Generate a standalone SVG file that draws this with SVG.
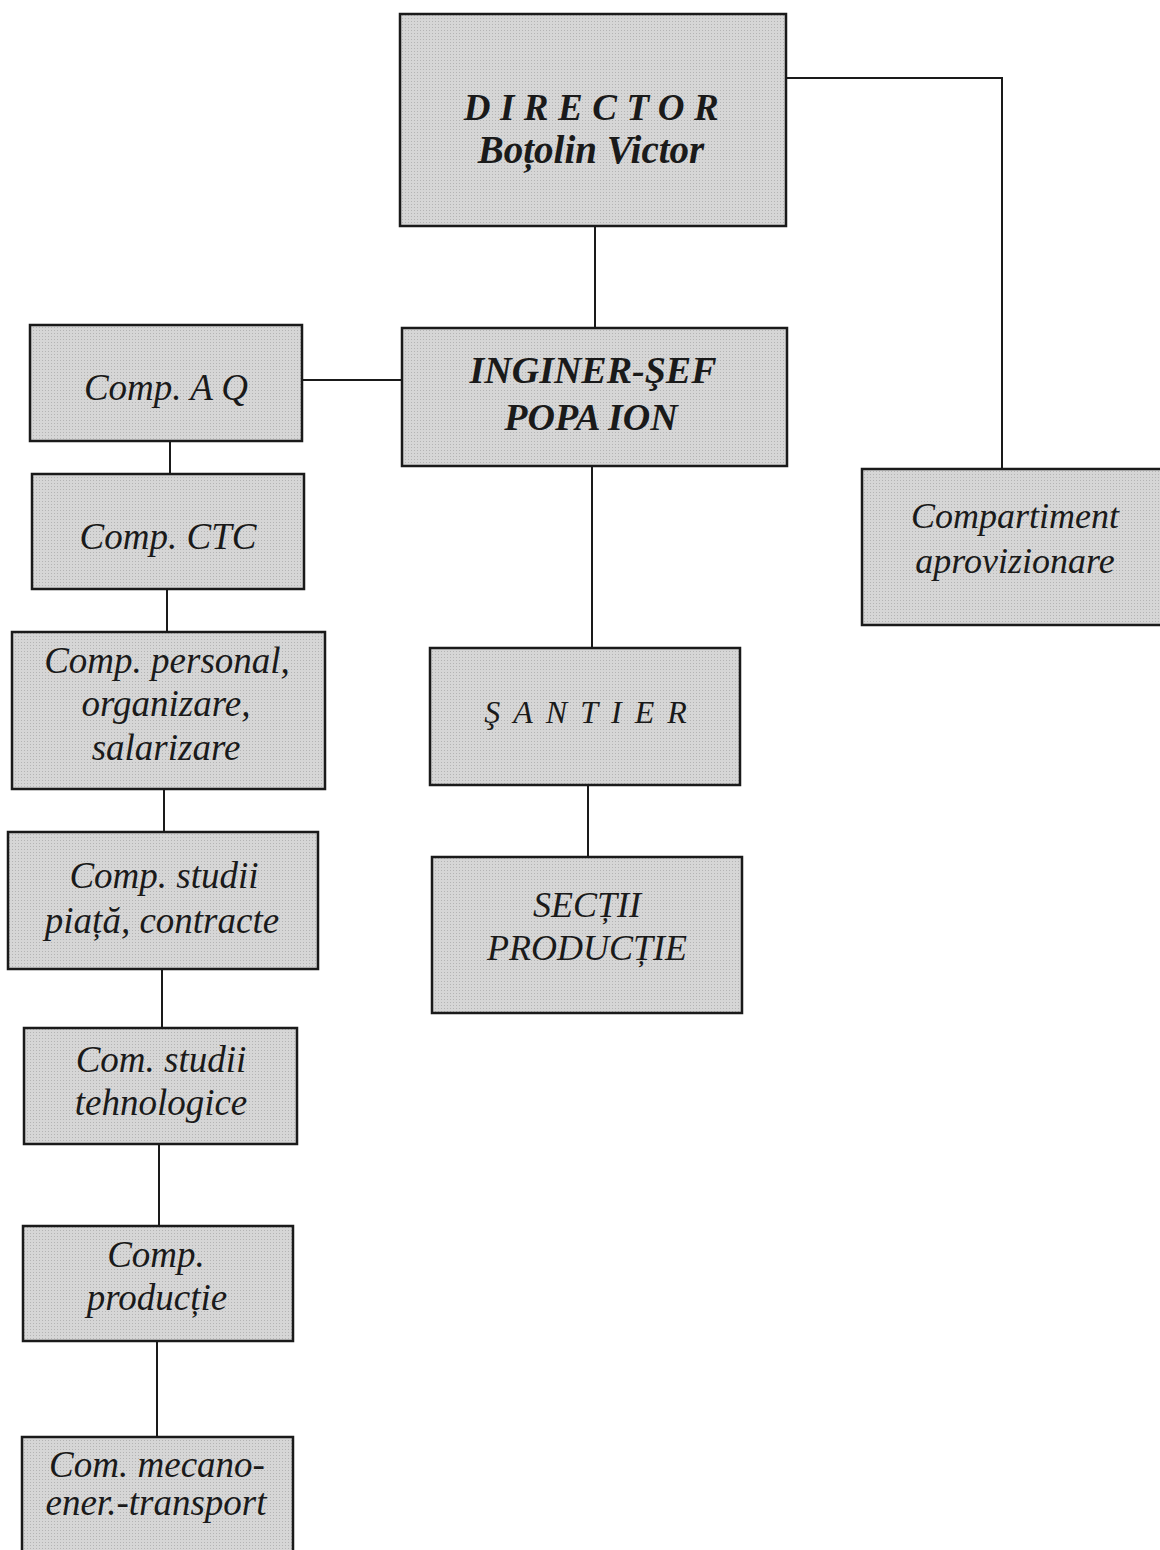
<svg xmlns="http://www.w3.org/2000/svg" width="1160" height="1550" viewBox="0 0 1160 1550">
<defs>
<pattern id="dots" width="3" height="3" patternUnits="userSpaceOnUse">
<rect width="3" height="3" fill="#d6d6d6"/>
<rect width="1" height="1" fill="#b4b4b4"/>
</pattern>
</defs>
<style>
.box{fill:url(#dots);stroke:#1a1a1a;stroke-width:2.5}
.t{font-family:"Liberation Serif","Times New Roman",serif;font-style:italic;fill:#1a1a1a;text-anchor:middle}
.b{font-weight:bold}
.conn{stroke:#1a1a1a;stroke-width:2;fill:none}
</style>
<rect width="1160" height="1550" fill="#ffffff"/>
<g id="connectors">
<line class="conn" x1="595" y1="226" x2="595" y2="328"/>
<polyline class="conn" points="787,78 1002,78 1002,469"/>
<line class="conn" x1="302" y1="380" x2="402" y2="380"/>
<line class="conn" x1="592" y1="466" x2="592" y2="648"/>
<line class="conn" x1="588" y1="785" x2="588" y2="857"/>
<line class="conn" x1="170" y1="441" x2="170" y2="474"/>
<line class="conn" x1="167" y1="589" x2="167" y2="632"/>
<line class="conn" x1="164" y1="789" x2="164" y2="832"/>
<line class="conn" x1="162" y1="969" x2="162" y2="1028"/>
<line class="conn" x1="159" y1="1144" x2="159" y2="1226"/>
<line class="conn" x1="157" y1="1341" x2="157" y2="1437"/>
</g>
<g id="director">
<rect class="box" x="400" y="14" width="386" height="212"/>
<text class="t b" x="596" y="120" font-size="37" letter-spacing="9.5">DIRECTOR</text>
<text class="t b" x="591" y="163" font-size="39">Boțolin Victor</text>
</g>
<g id="inginer-sef">
<rect class="box" x="402" y="328" width="385" height="138"/>
<text class="t b" x="593" y="383" font-size="38">INGINER-ŞEF</text>
<text class="t b" x="591" y="430" font-size="38">POPA ION</text>
</g>
<g id="compartiment-aprovizionare">
<rect class="box" x="862" y="469" width="300" height="156"/>
<text class="t" x="1015" y="528" font-size="36">Compartiment</text>
<text class="t" x="1015" y="573" font-size="36">aprovizionare</text>
</g>
<g id="santier">
<rect class="box" x="430" y="648" width="310" height="137"/>
<text class="t" x="592" y="723" font-size="32" letter-spacing="13">ŞANTIER</text>
</g>
<g id="sectii-productie">
<rect class="box" x="432" y="857" width="310" height="156"/>
<text class="t" x="587" y="917" font-size="36">SECȚII</text>
<text class="t" x="587" y="960" font-size="36">PRODUCȚIE</text>
</g>
<g id="comp-aq">
<rect class="box" x="30" y="325" width="272" height="116"/>
<text class="t" x="166" y="400" font-size="37">Comp. A Q</text>
</g>
<g id="comp-ctc">
<rect class="box" x="32" y="474" width="272" height="115"/>
<text class="t" x="168" y="549" font-size="37">Comp. CTC</text>
</g>
<g id="comp-personal">
<rect class="box" x="12" y="632" width="313" height="157"/>
<text class="t" x="167" y="673" font-size="37">Comp. personal,</text>
<text class="t" x="166" y="716" font-size="37">organizare,</text>
<text class="t" x="166" y="760" font-size="37">salarizare</text>
</g>
<g id="comp-studii-piata">
<rect class="box" x="8" y="832" width="310" height="137"/>
<text class="t" x="164" y="888" font-size="37">Comp. studii</text>
<text class="t" x="162" y="933" font-size="37">piață, contracte</text>
</g>
<g id="com-studii-tehnologice">
<rect class="box" x="24" y="1028" width="273" height="116"/>
<text class="t" x="161" y="1072" font-size="37">Com. studii</text>
<text class="t" x="161" y="1115" font-size="37">tehnologice</text>
</g>
<g id="comp-productie">
<rect class="box" x="23" y="1226" width="270" height="115"/>
<text class="t" x="156" y="1267" font-size="37">Comp.</text>
<text class="t" x="157" y="1310" font-size="37">producție</text>
</g>
<g id="com-mecano">
<rect class="box" x="22" y="1437" width="271" height="125"/>
<text class="t" x="157" y="1477" font-size="37">Com. mecano-</text>
<text class="t" x="156" y="1515" font-size="37">ener.-transport</text>
</g>
</svg>
